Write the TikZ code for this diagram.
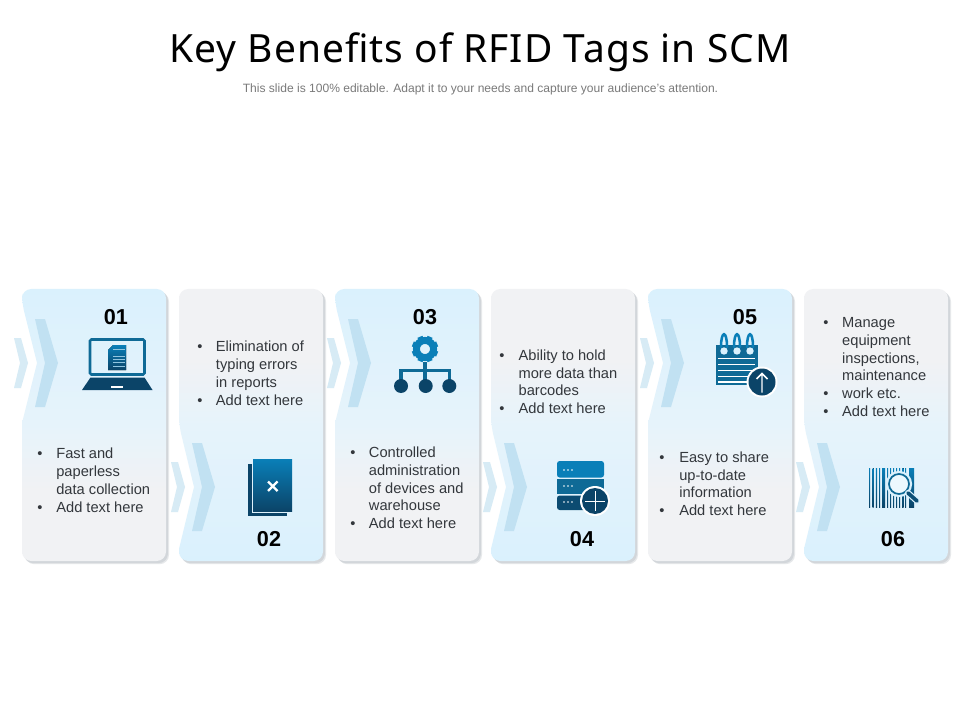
\documentclass[tikz,border=0pt]{standalone}
\usepackage{fontspec}
\setmainfont{Liberation Sans}
\newfontfamily\titlefont[LetterSpace=2.6]{Noto Sans}
\definecolor{cardblue}{HTML}{DAF1FD}
\definecolor{cardmid}{HTML}{E6F3FB}
\definecolor{cardgray}{HTML}{F1F2F4}
\definecolor{shadowgray}{HTML}{D2D6DA}
\definecolor{shadowsoft}{HTML}{E6E8EA}
\definecolor{bigchev}{HTML}{C1E1F2}
\definecolor{smallchev}{HTML}{D7EBF5}
\definecolor{ictop}{HTML}{0A7FB8}
\definecolor{icmid}{HTML}{0F6A96}
\definecolor{icdark}{HTML}{0B4468}
\definecolor{bodyink}{HTML}{33373C}
\pgfdeclareverticalshading{cardAshade}{100bp}{color(0bp)=(cardgray); color(38bp)=(cardgray); color(50bp)=(cardmid); color(75bp)=(cardblue); color(100bp)=(cardblue)}
\pgfdeclareverticalshading{cardBshade}{100bp}{color(0bp)=(cardblue); color(25bp)=(cardblue); color(50bp)=(cardmid); color(62bp)=(cardgray); color(100bp)=(cardgray)}
\tikzset{
  bodytext/.style={font=\fontsize{11}{13.3}\selectfont, text=bodyink, inner sep=0pt, anchor=west},
  numtext/.style={font=\fontsize{16.2}{18}\selectfont\bfseries, text=black, inner sep=0pt},
  grad/.style={top color=ictop, bottom color=icdark, draw=none},
}
\newcommand{\cardpathA}{[rounded corners=7pt] (144,289) -- (0,289) -- (0,303) [sharp corners] -- (15,363) -- (0,423) [rounded corners=7pt] -- (0,561) -- (144,561) -- cycle}
\newcommand{\cardpathB}{[rounded corners=7pt] (144,289) -- (0,289) -- (0,425) [sharp corners] -- (15,487) -- (0,549) [rounded corners=7pt] -- (0,561) -- (144,561) -- cycle}
\newcommand{\chevrons}[1]{%
  \fill[smallchev] (-8,#1-25) -- (-1,#1-25) -- (6,#1) -- (-1,#1+25) -- (-8,#1+25) -- (-2,#1) -- cycle;
  \fill[bigchev] (13,#1-44) -- (23,#1-44) -- (36,#1) -- (23,#1+44) -- (13,#1+44) -- (23,#1) -- cycle;
}
\newcommand{\cardA}[1]{\begin{scope}[shift={(#1,0)}]
  \fill[shadowsoft] [shift={(3,3.2)}] \cardpathA;
  \fill[shadowgray] [shift={(1.9,2.1)}] \cardpathA;
  \shade[shading=cardAshade] \cardpathA;
  \chevrons{363}
\end{scope}}
\newcommand{\cardB}[1]{\begin{scope}[shift={(#1,0)}]
  \fill[shadowsoft] [shift={(3,3.2)}] \cardpathB;
  \fill[shadowgray] [shift={(1.9,2.1)}] \cardpathB;
  \shade[shading=cardBshade] \cardpathB;
  \chevrons{487}
\end{scope}}
\begin{document}
\begin{tikzpicture}[x=0.75pt,y=-0.75pt]
\useasboundingbox (0,0) rectangle (960,720);
\fill[white] (0,0) rectangle (960,720);

\node[inner sep=0pt, font=\titlefont\fontsize{29.2}{34}\selectfont, text=black] (title) at (480,52.5) {Key Benefits of RFID Tags in SCM};
\node[inner sep=0pt, font=\fontsize{9.04}{11}\selectfont, text=black!52] (subtitle) at (480.5,89.6) {This slide is 100\% editable. Adapt it to your needs and capture your audience’s attention.};

\cardA{22}
\cardB{179}
\cardA{335}
\cardB{491}
\cardA{648}
\cardB{804}

% numbers
\node[numtext] (n1) at (116,317) {01};
\node[numtext] (n2) at (269,539) {02};
\node[numtext] (n3) at (425,317) {03};
\node[numtext] (n4) at (582,539) {04};
\node[numtext] (n5) at (745,317) {05};
\node[numtext] (n6) at (893,539) {06};

% texts
\node[bodytext] (t1) at (37,482) {\begin{tabular}{@{}p{14.3pt}@{}l@{}}\textbullet & Fast and\\ & paperless\\ & data collection\\ \textbullet & Add text here\end{tabular}};
\node[bodytext] (t2) at (197,375) {\begin{tabular}{@{}p{14pt}@{}l@{}}\textbullet & Elimination of\\ & typing errors\\ & in reports\\ \textbullet & Add text here\end{tabular}};
\node[bodytext] (t3) at (350,489.5) {\begin{tabular}{@{}p{14pt}@{}l@{}}\textbullet & Controlled\\ & administration\\ & of devices and\\ & warehouse\\ \textbullet & Add text here\end{tabular}};
\node[bodytext] (t4) at (499,383.5) {\begin{tabular}{@{}p{14.5pt}@{}l@{}}\textbullet & Ability to hold\\ & more data than\\ & barcodes\\ \textbullet & Add text here\end{tabular}};
\node[bodytext] (t5) at (659,485.5) {\begin{tabular}{@{}p{15pt}@{}l@{}}\textbullet & Easy to share\\ & up-to-date\\ & information\\ \textbullet & Add text here\end{tabular}};
\node[bodytext] (t6) at (823,368.5) {\begin{tabular}{@{}p{14.2pt}@{}l@{}}\textbullet & Manage\\ & equipment\\ & inspections,\\ & maintenance\\ \textbullet & work etc.\\ \textbullet & Add text here\end{tabular}};

% icon 01 laptop
\draw[icmid, line width=1.9pt, rounded corners=1pt] (90,339.5) rectangle (144.5,374.5);
\fill[icdark] (90.5,377.5) -- (144.5,377.5) -- (152.5,390) -- (82,390) -- cycle;
\fill[white] (111,385.8) rectangle (123,388);
\fill[grad] (113,345) -- (126,345) -- (126,370) -- (108,370) -- (108,350) -- cycle;
\foreach \yy in {349,355.5,358.5,362,365.5}{\fill[ictop!45!white] (113,\yy) rectangle (125,\yy+1);}

% icon 02 book
\fill[icdark] (248,464) rectangle (252,516);
\fill[icdark] (248,512.5) rectangle (287,516);
\fill[grad] (253,459) rectangle (292,511);
\draw[white, line width=1.6pt] (268,481.5) -- (277.5,491) (277.5,481.5) -- (268,491);

% icon 03 gear and tree
\draw[ictop, line width=5.2pt] (425,349) circle[radius=8.6];
\foreach \a in {0,45,...,315}{\fill[ictop, rotate around={\a+22.5:(425,349)}] (422.3,335.8) rectangle (427.7,340);}
\draw[icmid, line width=2.3pt] (425,362) -- (425,381) (401,384) -- (401,370.3) -- (449.5,370.3) -- (449.5,384);
\fill[icdark] (401,386) circle[radius=7] (425.7,386) circle[radius=7] (449.3,386) circle[radius=7];

% icon 04 server
\fill[ictop, rounded corners=2pt] (557,461) rectangle (604,477.5);
\fill[icmid] (557,479) rectangle (604,494);
\fill[icdark!80!icmid, rounded corners=2pt] (557,495.5) rectangle (604,510);
\foreach \yy in {470,486,502}{\foreach \xx in {564,568,572}{\fill[white] (\xx,\yy) circle[radius=0.9];}}
\fill[white] (595,501) circle[radius=15];
\fill[icdark] (595,501) circle[radius=13];
\draw[white, line width=0.55pt] (595,491) -- (595,511) (585,501) -- (605,501);

% icon 05 notebook
\fill[icmid] (716,345) rectangle (758,385);
\foreach \yy in {358.5,364.5,370.5,376.5,382}{\fill[white] (718,\yy-0.9) rectangle (755,\yy+0.9);}
\foreach \xx in {724,737,750}{
  \draw[ictop, line width=1.9pt, line cap=round] (\xx-3,347) .. controls (\xx-3,330) and (\xx+3,330) .. (\xx+3,347);
  \fill[cardblue] (\xx,351) circle[radius=3.7];
}
\fill[white] (762,382) circle[radius=15.5];
\fill[icdark] (762,382) circle[radius=13.5];
\draw[white, line width=1.1pt] (762,392.5) -- (762,373.5) (756.5,379) -- (762,373.5) -- (767.5,379);

% icon 06 barcode
\foreach \xa/\xb in {869/870,872.5/873.5,875.8/877,879/880,882/885,887/888,890/891,893/894,896/897,899/900,902/903.5,905/906,909/914}{
  \fill[grad] (\xa,468) rectangle (\xb,507);
}
\fill[cardblue!50!white] (899,484) circle[radius=11];
\draw[cardblue, line width=2.6pt] (899,484) circle[radius=11.4];
\draw[icmid, line width=1.3pt] (899,484) circle[radius=10];
\draw[cardblue, line width=4.6pt, line cap=round] (908,493) -- (917,501);
\draw[icdark!70!icmid, line width=2.8pt, line cap=round] (908,493) -- (917,501);
\end{tikzpicture}
\end{document}
